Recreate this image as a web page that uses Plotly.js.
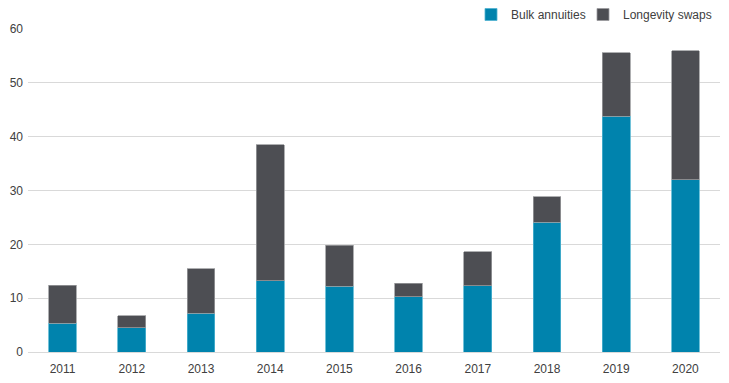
<!DOCTYPE html>
<html>
<head>
<meta charset="utf-8">
<script src="https://cdn.plot.ly/plotly-3.0.1.min.js"></script>
<style>html,body{margin:0;padding:0;background:#fff;}#chart{width:729px;height:383px;}</style>
</head>
<body>
<div id="chart"></div>
<script>
const years = ["2011","2012","2013","2014","2015","2016","2017","2018","2019","2020"];
const bulkAnnuities = [5.3, 4.5, 7.2, 13.2, 12.2, 10.3, 12.3, 24.1, 43.8, 32.0];
const longevitySwaps = [7.1, 2.2, 8.3, 25.3, 7.6, 2.5, 6.3, 4.7, 11.8, 24.0];
const yTicks = [0, 10, 20, 30, 40, 50, 60];

const traces = [
  {type:"bar", name:"Bulk annuities", x:years, y:bulkAnnuities, legend:"legend",
   marker:{color:"#0083AD", line:{color:"#4FB3D0", width:0.8}}},
  {type:"bar", name:"Longevity swaps", x:years, y:longevitySwaps, legend:"legend2",
   marker:{color:"#4D4E53", line:{color:"#9A9B9E", width:0.8}}}
];
const legendBase = {orientation:"h", xref:"container", yref:"container", xanchor:"left",
          y:1, yanchor:"top", font:{size:12, color:"#404040"}, itemwidth:30, itemclick:false,
          bgcolor:"rgba(0,0,0,0)"};
const layout = {
  width:729, height:383,
  margin:{l:28, r:9, t:29, b:31},
  barmode:"stack", bargap:0.6,
  paper_bgcolor:"#fff", plot_bgcolor:"#fff",
  font:{family:"Liberation Sans, Arial, sans-serif", size:12, color:"#404040"},
  showlegend:true,
  legend:Object.assign({}, legendBase, {x:471/729}),
  legend2:Object.assign({}, legendBase, {x:583/729}),
  xaxis:{type:"category", showgrid:false, showline:true, linecolor:"#D9D9D9", linewidth:1,
         ticks:"", tickfont:{size:12, color:"#404040"}, ticklabelstandoff:6, fixedrange:true},
  yaxis:{range:[0,60], tickvals:yTicks, showgrid:true, gridcolor:"#D9D9D9", gridwidth:1,
         zeroline:false, showline:false, ticks:"", tickfont:{size:12, color:"#404040"},
         ticklabelstandoff:4, fixedrange:true}
};
Plotly.newPlot("chart", traces, layout, {displayModeBar:false, staticPlot:true});
</script>
</body>
</html>
